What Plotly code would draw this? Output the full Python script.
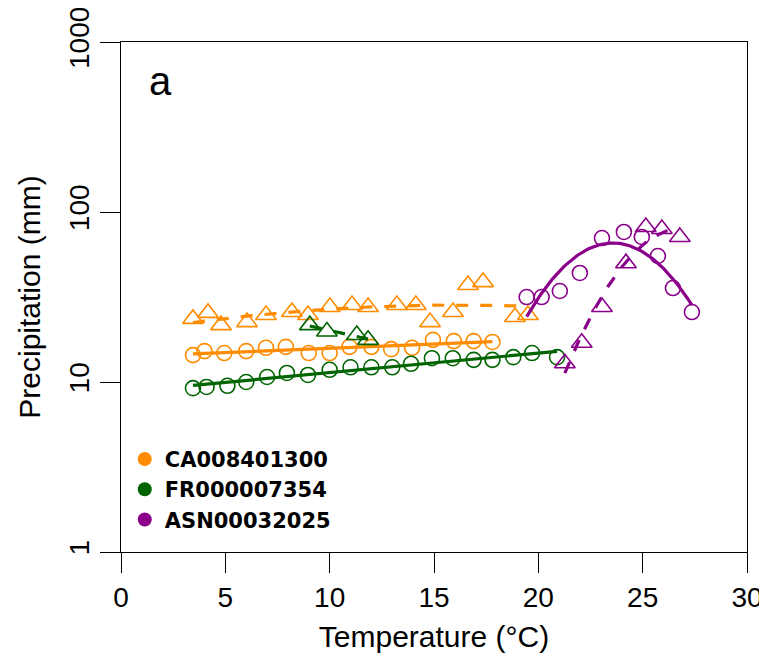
import numpy as np
import plotly.graph_objects as go

# ---------------- data ----------------
ca_circ_T = [3.45, 4.0, 4.95, 6.0, 6.95, 7.9, 9.0, 10.0, 10.95, 12.0, 12.95, 13.95, 14.95, 15.95, 16.9, 17.8]
ca_circ_P = [14.4, 15.2, 14.8, 15.2, 15.9, 16.1, 14.8, 14.8, 16.1, 16.1, 15.6, 15.9, 17.7, 17.4, 17.4, 17.2]

ca_tri_T = [3.45, 4.17, 4.79, 6.04, 6.95, 8.19, 8.96, 10.01, 11.07, 11.84, 13.22, 14.13, 14.81, 15.91,
            16.63, 17.35, 18.88, 19.5]
ca_tri_P = [23.5, 25.5, 21.6, 22.5, 24.8, 25.8, 24.8, 27.6, 28.4, 27.6, 28.4, 28.4, 22.5, 25.8,
            37.2, 38.7, 24.1, 24.8]

fr_circ_T = [3.45, 4.1, 5.1, 6.0, 7.0, 7.95, 8.96, 10.0, 11.0, 12.0, 13.0, 13.9, 14.9, 15.9, 16.9,
             17.8, 18.8, 19.7, 20.9]
fr_circ_P = [9.2, 9.35, 9.5, 10.0, 10.7, 11.3, 11.0, 11.8, 12.2, 12.2, 12.2, 12.8, 13.8, 13.8, 13.5,
             13.5, 14.0, 14.8, 14.0]

fr_tri_T = [9.05, 9.87, 11.3, 11.84]
fr_tri_P = [21.6, 19.8, 18.9, 17.7]

asn_circ_T = [19.44, 20.16, 21.03, 21.99, 23.05, 24.1, 24.96, 25.73, 26.45, 27.36]
asn_circ_P = [31.6, 31.6, 34.3, 43.8, 70.3, 76.3, 71.3, 55.1, 35.7, 25.8]

asn_tri_T = [21.27, 22.08, 23.05, 24.2, 25.15, 25.92, 26.78]
asn_tri_P = [12.9, 17.0, 27.6, 50.0, 81.6, 79.5, 71.3]

station_names = ["CA008401300", "FR000007354", "ASN00032025"]
station_colors = ["#FF8C00", "#006400", "#8B008B"]

x_ticks = [0, 5, 10, 15, 20, 25, 30]
y_ticks = [1, 10, 100, 1000]
y_ticktext = ["1", "10", "100", "1000"]

FONT = "Liberation Sans, Arial, sans-serif"


def fit_curve(T, P, deg):
    T = np.asarray(T, float)
    lp = np.log10(np.asarray(P, float))
    c = np.polyfit(T, lp, deg)
    xs = np.linspace(T.min(), T.max(), 120)
    return xs, 10 ** np.polyval(c, xs)


fig = go.Figure()

series = [
    (ca_circ_T, ca_circ_P, ca_tri_T, ca_tri_P, 1, 2),
    (fr_circ_T, fr_circ_P, fr_tri_T, fr_tri_P, 1, 1),
    (asn_circ_T, asn_circ_P, asn_tri_T, asn_tri_P, 2, 2),
]

for (cT, cP, tT, tP, dc, dt), col in zip(series, station_colors):
    fig.add_trace(go.Scatter(x=cT, y=cP, mode="markers", showlegend=False, cliponaxis=False,
                             marker=dict(symbol="circle-open", size=15, color=col,
                                         line=dict(width=1.6, color=col))))
    fig.add_trace(go.Scatter(x=tT, y=tP, mode="markers", showlegend=False, cliponaxis=False,
                             marker=dict(symbol="triangle-up-open", size=18, color=col,
                                         line=dict(width=1.6, color=col))))
    xs, ys = fit_curve(cT, cP, dc)
    fig.add_trace(go.Scatter(x=xs, y=ys, mode="lines", showlegend=False,
                             line=dict(color=col, width=3.2)))
    xs, ys = fit_curve(tT, tP, dt)
    fig.add_trace(go.Scatter(x=xs, y=ys, mode="lines", showlegend=False,
                             line=dict(color=col, width=3.2, dash="12px,12px")))

for name, col in zip(station_names, station_colors):
    fig.add_trace(go.Scatter(x=[None], y=[None], mode="markers", name=name,
                             marker=dict(symbol="circle", size=14, color=col)))

fig.add_annotation(text="a", xref="paper", yref="paper", x=0.042, y=0.923,
                   xanchor="left", yanchor="middle", showarrow=False,
                   font=dict(family=FONT, size=40, color="black"))

axis_common = dict(showline=True, linecolor="black", linewidth=1.3, mirror=True,
                   ticks="outside", ticklen=20, tickwidth=1.3, tickcolor="black",
                   showgrid=False, zeroline=False, automargin=False,
                   ticklabeloverflow="allow",
                   tickfont=dict(family=FONT, size=28, color="black"))

# The page body adds an 8px offset, so the figure is 8px smaller and margins are shifted.
fig.update_layout(
    width=759, height=658,
    margin=dict(l=113, r=20, t=34, b=114),
    paper_bgcolor="white", plot_bgcolor="white",
    font=dict(family=FONT, color="black"),
    xaxis=dict(range=[0, 30], tickvals=x_ticks,
               title=dict(text="Temperature (°C)", font=dict(family=FONT, size=30), standoff=14),
               **axis_common),
    yaxis=dict(type="log", range=[0, 3], tickvals=y_ticks, ticktext=y_ticktext, tickangle=-90,
               title=dict(text="Precipitation (mm)", font=dict(family=FONT, size=30), standoff=14),
               **axis_common),
    legend=dict(x=0.006, y=0.222, xanchor="left", yanchor="top", bgcolor="rgba(0,0,0,0)",
                font=dict(family="DejaVu Sans", size=21, color="black", weight="bold"),
                itemsizing="trace", tracegroupgap=0),
)

fig.write_html("out.html")
